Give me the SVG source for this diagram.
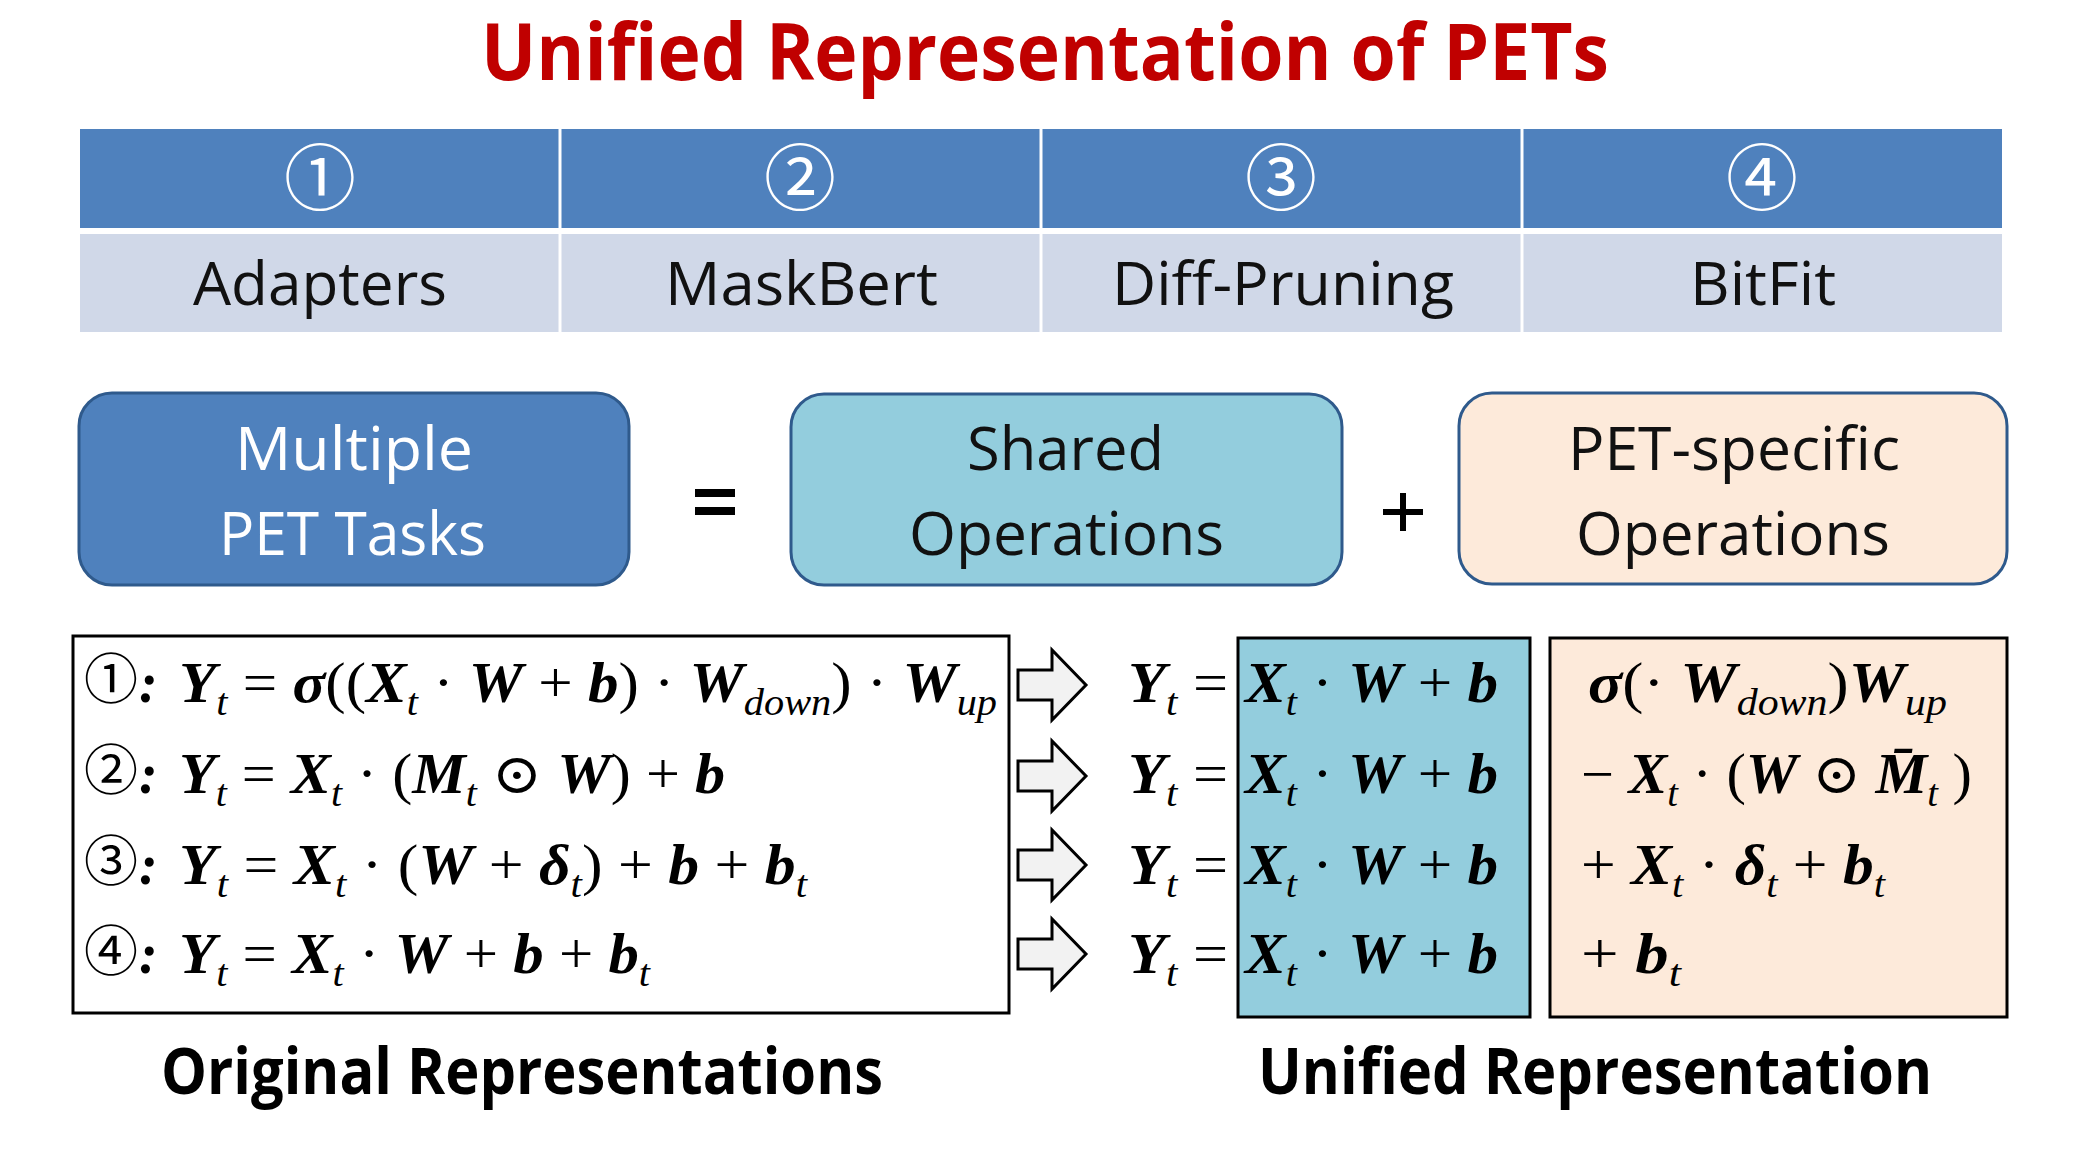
<svg xmlns="http://www.w3.org/2000/svg" width="2084" height="1164" viewBox="0 0 2084 1164">
<style>
.ui{font-family:"Open Sans","Liberation Sans",sans-serif}
.lbl{font-family:"Open Sans","Liberation Sans",sans-serif;font-size:60px;fill:#111}
.cn{font-family:"Noto Sans CJK JP","DejaVu Sans",sans-serif;font-size:72px;fill:#fff;text-anchor:middle}
.m{font-family:"Liberation Serif","DejaVu Serif",serif;font-style:italic;font-weight:bold;font-size:56px;fill:#000}
.o{font-style:normal;font-weight:normal}
.s{font-size:37px;font-weight:normal}
.cn2{font-family:"Noto Sans CJK JP","DejaVu Sans",sans-serif;font-size:54px;fill:#000;text-anchor:middle}
.arrow{fill:#F2F2F2;stroke:#000;stroke-width:3;stroke-linejoin:miter}
</style>
<defs>
<path id="arr" d="M0,-15 H34 V-35 L68,0 L34,35 V15 H0 Z"/>
</defs>
<rect width="2084" height="1164" fill="#fff"/>

<g id="title">
<text x="481" y="80" class="ui" font-weight="bold" font-size="78" fill="#C00000" textLength="1128" lengthAdjust="spacingAndGlyphs">Unified Representation of PETs</text>
</g>

<g id="table">
<rect x="80" y="129" width="1922" height="99" fill="#4F81BD"/>
<rect x="80" y="234" width="1922" height="98" fill="#D0D8E8"/>
<g stroke="#fff" stroke-width="3">
<line x1="560" y1="129" x2="560" y2="332"/>
<line x1="1041" y1="129" x2="1041" y2="332"/>
<line x1="1522" y1="129" x2="1522" y2="332"/>
</g>
<text x="320" y="204" class="cn">①</text>
<text x="800" y="204" class="cn">②</text>
<text x="1281" y="204" class="cn">③</text>
<text x="1762" y="204" class="cn">④</text>
<text x="193" y="305" class="lbl" textLength="254" lengthAdjust="spacingAndGlyphs">Adapters</text>
<text x="665" y="305" class="lbl" textLength="273" lengthAdjust="spacingAndGlyphs">MaskBert</text>
<text x="1112" y="305" class="lbl" textLength="342" lengthAdjust="spacingAndGlyphs">Diff-Pruning</text>
<text x="1690" y="305" class="lbl" textLength="146" lengthAdjust="spacingAndGlyphs">BitFit</text>
</g>

<g id="multiple">
<rect x="79" y="393" width="550" height="192" rx="33" fill="#4F81BD" stroke="#2F5A8C" stroke-width="3"/>
<text x="235" y="470" class="lbl" style="fill:#fff" textLength="238" lengthAdjust="spacingAndGlyphs">Multiple</text>
<text x="219" y="555" class="lbl" style="fill:#fff" textLength="267" lengthAdjust="spacingAndGlyphs">PET Tasks</text>
</g>
<g id="eq">
<rect x="695" y="489" width="40" height="8" fill="#000"/>
<rect x="695" y="507" width="40" height="8" fill="#000"/>
</g>
<g id="shared">
<rect x="791" y="394" width="551" height="191" rx="33" fill="#93CDDD" stroke="#2F5A8C" stroke-width="3"/>
<text x="967" y="470" class="lbl" textLength="197" lengthAdjust="spacingAndGlyphs">Shared</text>
<text x="909" y="555" class="lbl" textLength="315" lengthAdjust="spacingAndGlyphs">Operations</text>
</g>
<g id="plus">
<rect x="1383" y="509" width="40" height="6" fill="#000"/>
<rect x="1400" y="493" width="6" height="38" fill="#000"/>
</g>
<g id="petspecific">
<rect x="1459" y="393" width="548" height="191" rx="33" fill="#FDEADA" stroke="#2F5A8C" stroke-width="3"/>
<text x="1568" y="470" class="lbl" textLength="332" lengthAdjust="spacingAndGlyphs">PET-specific</text>
<text x="1576" y="555" class="lbl" textLength="314" lengthAdjust="spacingAndGlyphs">Operations</text>
</g>

<g id="original">
<rect x="73" y="636" width="936" height="377" fill="#fff" stroke="#000" stroke-width="3"/>
<text x="111" y="699" class="cn2">①</text>
<text x="111" y="790" class="cn2">②</text>
<text x="111" y="881" class="cn2">③</text>
<text x="111" y="971" class="cn2">④</text>
<text x="139" y="702" class="m">:</text>
<text x="139" y="793" class="m">:</text>
<text x="139" y="884" class="m">:</text>
<text x="139" y="973" class="m">:</text>
<text x="179" y="702" class="m" textLength="818" lengthAdjust="spacingAndGlyphs">Y<tspan class="s" dy="13">t</tspan><tspan class="o" dy="-13"> = </tspan>σ<tspan class="o">((</tspan>X<tspan class="s" dy="13">t</tspan><tspan class="o" dy="-13"> · </tspan>W<tspan class="o"> + </tspan>b<tspan class="o">) · </tspan>W<tspan class="s" dy="13">down</tspan><tspan class="o" dy="-13">) · </tspan>W<tspan class="s" dy="13">up</tspan></text>
<text x="179" y="793" class="m" textLength="546" lengthAdjust="spacingAndGlyphs">Y<tspan class="s" dy="13">t</tspan><tspan class="o" dy="-13"> = </tspan>X<tspan class="s" dy="13">t</tspan><tspan class="o" dy="-13"> · (</tspan>M<tspan class="s" dy="13">t</tspan><tspan class="o" dy="-13"> ⊙ </tspan>W<tspan class="o">) + </tspan>b</text>
<text x="179" y="884" class="m" textLength="628" lengthAdjust="spacingAndGlyphs">Y<tspan class="s" dy="13">t</tspan><tspan class="o" dy="-13"> = </tspan>X<tspan class="s" dy="13">t</tspan><tspan class="o" dy="-13"> · (</tspan>W<tspan class="o"> + </tspan>δ<tspan class="s" dy="13">t</tspan><tspan class="o" dy="-13">) + </tspan>b<tspan class="o"> + </tspan>b<tspan class="s" dy="13">t</tspan></text>
<text x="179" y="973" class="m" textLength="471" lengthAdjust="spacingAndGlyphs">Y<tspan class="s" dy="13">t</tspan><tspan class="o" dy="-13"> = </tspan>X<tspan class="s" dy="13">t</tspan><tspan class="o" dy="-13"> · </tspan>W<tspan class="o"> + </tspan>b<tspan class="o"> + </tspan>b<tspan class="s" dy="13">t</tspan></text>
</g>

<g id="connectors">
<use href="#arr" class="arrow" transform="translate(1018,685)"/>
<use href="#arr" class="arrow" transform="translate(1018,776)"/>
<use href="#arr" class="arrow" transform="translate(1018,865)"/>
<use href="#arr" class="arrow" transform="translate(1018,954)"/>
</g>

<g id="unified-lhs">
<text x="1128" y="702" class="m" textLength="100" lengthAdjust="spacingAndGlyphs">Y<tspan class="s" dy="13">t</tspan><tspan class="o" dy="-13"> =</tspan></text>
<text x="1128" y="793" class="m" textLength="100" lengthAdjust="spacingAndGlyphs">Y<tspan class="s" dy="13">t</tspan><tspan class="o" dy="-13"> =</tspan></text>
<text x="1128" y="884" class="m" textLength="100" lengthAdjust="spacingAndGlyphs">Y<tspan class="s" dy="13">t</tspan><tspan class="o" dy="-13"> =</tspan></text>
<text x="1128" y="973" class="m" textLength="100" lengthAdjust="spacingAndGlyphs">Y<tspan class="s" dy="13">t</tspan><tspan class="o" dy="-13"> =</tspan></text>
</g>

<g id="shared-ops">
<rect x="1238" y="638" width="292" height="379" fill="#93CDDD" stroke="#000" stroke-width="3"/>
<text x="1245" y="702" class="m" textLength="253" lengthAdjust="spacingAndGlyphs">X<tspan class="s" dy="13">t</tspan><tspan class="o" dy="-13"> · </tspan>W<tspan class="o">  + </tspan>b</text>
<text x="1245" y="793" class="m" textLength="253" lengthAdjust="spacingAndGlyphs">X<tspan class="s" dy="13">t</tspan><tspan class="o" dy="-13"> · </tspan>W<tspan class="o">  + </tspan>b</text>
<text x="1245" y="884" class="m" textLength="253" lengthAdjust="spacingAndGlyphs">X<tspan class="s" dy="13">t</tspan><tspan class="o" dy="-13"> · </tspan>W<tspan class="o">  + </tspan>b</text>
<text x="1245" y="973" class="m" textLength="253" lengthAdjust="spacingAndGlyphs">X<tspan class="s" dy="13">t</tspan><tspan class="o" dy="-13"> · </tspan>W<tspan class="o">  + </tspan>b</text>
</g>

<g id="specific-ops">
<rect x="1550" y="638" width="457" height="379" fill="#FDEADA" stroke="#000" stroke-width="3"/>
<text x="1588" y="702" class="m" textLength="359" lengthAdjust="spacingAndGlyphs">σ<tspan class="o">(· </tspan>W<tspan class="s" dy="13">down</tspan><tspan class="o" dy="-13">)</tspan>W<tspan class="s" dy="13">up</tspan></text>
<text x="1581" y="793" class="m" textLength="391" lengthAdjust="spacingAndGlyphs"><tspan class="o">− </tspan>X<tspan class="s" dy="13">t</tspan><tspan class="o" dy="-13"> · (</tspan>W<tspan class="o"> ⊙ </tspan>M̄<tspan class="s" dy="13">t</tspan><tspan class="o" dy="-13"> )</tspan></text>
<text x="1581" y="884" class="m" textLength="304" lengthAdjust="spacingAndGlyphs"><tspan class="o">+ </tspan>X<tspan class="s" dy="13">t</tspan><tspan class="o" dy="-13"> · </tspan>δ<tspan class="s" dy="13">t</tspan><tspan class="o" dy="-13"> + </tspan>b<tspan class="s" dy="13">t</tspan></text>
<text x="1581" y="973" class="m" textLength="100" lengthAdjust="spacingAndGlyphs"><tspan class="o">+ </tspan>b<tspan class="s" dy="13">t</tspan></text>
</g>

<g id="captions">
<text x="161" y="1094" class="ui" font-weight="bold" font-size="64" fill="#000" textLength="722" lengthAdjust="spacingAndGlyphs">Original Representations</text>
<text x="1258" y="1094" class="ui" font-weight="bold" font-size="64" fill="#000" textLength="674" lengthAdjust="spacingAndGlyphs">Unified Representation</text>
</g>
</svg>
